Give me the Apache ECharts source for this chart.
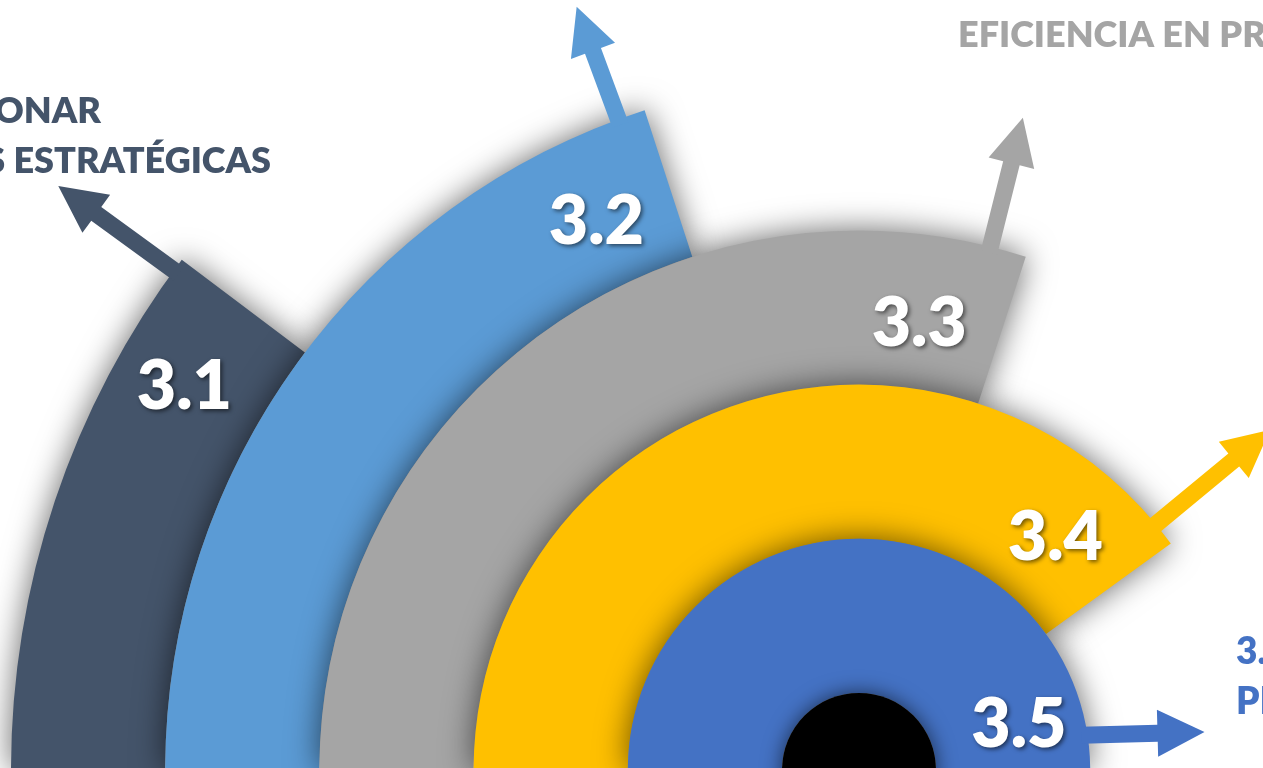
<!DOCTYPE html>
<html>
<head>
<meta charset="utf-8">
<script src="https://cdn.jsdelivr.net/npm/echarts@6/dist/echarts.min.js"></script>
<style>
html,body{margin:0;padding:0;background:#ffffff;overflow:hidden}
#chart{width:1263px;height:768px}
</style>
</head>
<body>
<div id="chart"></div>
<script>
// ---- data (inner ring first) ----
const rings = ['3.5', '3.4', '3.3', '3.2', '3.1'];
const sweeps = [180, 144, 108, 72, 37];          // arc length of each ring, degrees
const ringLabels = ['3.5', '3.4', '3.3', '3.2', '3.1'];
const headingTexts = ['ONAR', 'S ESTRATÉGICAS', 'EFICIENCIA EN PR', '3.5', 'PR'];

// ---- styling / decoration settings ----
const ringColors = ['#4472C4', '#FFC000', '#A5A5A5', '#5B9BD5', '#44546A'];
const labelAngleOffset = [15.7, 13.8, 10.3, 7.6, 7.4];   // degrees back from arc end
const labelRadialShift = [12, -4, -13, -9, 5];            // px from band centre
const arrowBaseOffset = [8.7, 3.6, 3.9, 2.3, 0.9];        // degrees back from arc end
const arrowDirOffset = [1.5, 3.6, 3.9, 2.3, 0.9];
const arrowLength = [117, 148, 133, 120, 143];

const chart = echarts.init(document.getElementById('chart'), null, {renderer: 'canvas'});

function unitFromCenter(cs, p) {
  const a = Math.atan2(p[1] - cs.cy, p[0] - cs.cx);
  return [Math.cos(a), Math.sin(a)];
}

const ringSeries = rings.map((name, i) => ({
  type: 'bar',
  coordinateSystem: 'polar',
  stack: 'rings',
  barCategoryGap: '0%',
  name: name,
  data: rings.map((_, j) => (j === i ? sweeps[i] : '-')),
  itemStyle: {
    color: ringColors[i],
    shadowBlur: 32,
    shadowColor: 'rgba(0,0,0,0.6)'
  },
  silent: true,
  z: 10 - i
}));

const arrowSeries = {
  type: 'custom',
  coordinateSystem: 'polar',
  silent: true,
  z: 20,
  data: rings.map((_, i) => [i, sweeps[i]]),
  renderItem: function (params, api) {
    const i = api.value(0);
    const end = api.value(1);
    const cs = params.coordSys;
    const band = (cs.r - cs.r0) / rings.length;
    const outerR = cs.r0 + band * (i + 1);
    const u1 = unitFromCenter(cs, api.coord([i, end - arrowBaseOffset[i]]));
    const d = unitFromCenter(cs, api.coord([i, end - arrowDirOffset[i]]));
    const n = [-d[1], d[0]];
    const base = [cs.cx + outerR * u1[0] - d[0] * 6, cs.cy + outerR * u1[1] - d[1] * 6];
    const L = arrowLength[i] + 6;
    const hl = 47, hw = 23.5, sw = 8.5;
    const se = [base[0] + d[0] * (L - hl), base[1] + d[1] * (L - hl)];
    const tip = [base[0] + d[0] * L, base[1] + d[1] * L];
    const pts = [
      [base[0] + n[0] * sw, base[1] + n[1] * sw],
      [se[0] + n[0] * sw, se[1] + n[1] * sw],
      [se[0] + n[0] * hw, se[1] + n[1] * hw],
      tip,
      [se[0] - n[0] * hw, se[1] - n[1] * hw],
      [se[0] - n[0] * sw, se[1] - n[1] * sw],
      [base[0] - n[0] * sw, base[1] - n[1] * sw]
    ];
    return {
      type: 'polygon',
      shape: {points: pts},
      style: {fill: ringColors[i]}
    };
  }
};

const labelSeries = {
  type: 'custom',
  coordinateSystem: 'polar',
  silent: true,
  z: 30,
  data: rings.map((_, i) => [i, sweeps[i]]),
  renderItem: function (params, api) {
    const i = api.value(0);
    const end = api.value(1);
    const cs = params.coordSys;
    const p = api.coord([i, end - labelAngleOffset[i]]);
    const u = unitFromCenter(cs, p);
    return {
      type: 'text',
      x: p[0] + u[0] * labelRadialShift[i],
      y: p[1] + u[1] * labelRadialShift[i],
      style: {
        text: ringLabels[i],
        fill: '#ffffff',
        font: '800 68px Lato',
        align: 'center',
        verticalAlign: 'middle',
        textShadowColor: 'rgba(0,0,0,0.55)',
        textShadowBlur: 4,
        textShadowOffsetX: 2,
        textShadowOffsetY: 2
      }
    };
  }
};

const centerDot = {
  type: 'pie',
  center: [859, 770],
  radius: [0, 77],
  silent: true,
  z: 15,
  label: {show: false},
  labelLine: {show: false},
  data: [{value: 1, name: 'centre'}],
  itemStyle: {color: '#000000', shadowBlur: 20, shadowColor: 'rgba(0,0,0,0.6)'}
};

function heading(text, x, y, size, color, align) {
  return {type: 'text', x: x, y: y, z: 50,
    style: {text: text, font: '800 ' + size + 'px Lato', fill: color, align: align, verticalAlign: 'middle'}};
}

const option = {
  animation: false,
  backgroundColor: '#ffffff',
  polar: {center: [859, 770], radius: [77, 848]},
  angleAxis: {type: 'value', min: 0, max: 360, startAngle: 180, clockwise: true, show: false},
  radiusAxis: {type: 'category', data: rings, show: false},
  series: ringSeries.concat([centerDot, arrowSeries, labelSeries]),
  graphic: [
    heading(headingTexts[0], 101, 111, 36, '#44546A', 'right'),
    heading(headingTexts[1], 271, 161, 36, '#44546A', 'right'),
    heading(headingTexts[2], 958, 35, 36, '#A5A5A5', 'left'),
    heading(headingTexts[3], 1236, 652, 37, '#4472C4', 'left'),
    heading(headingTexts[4], 1236, 702, 37, '#4472C4', 'left')
  ]
};
chart.setOption(option);
</script>
</body>
</html>
